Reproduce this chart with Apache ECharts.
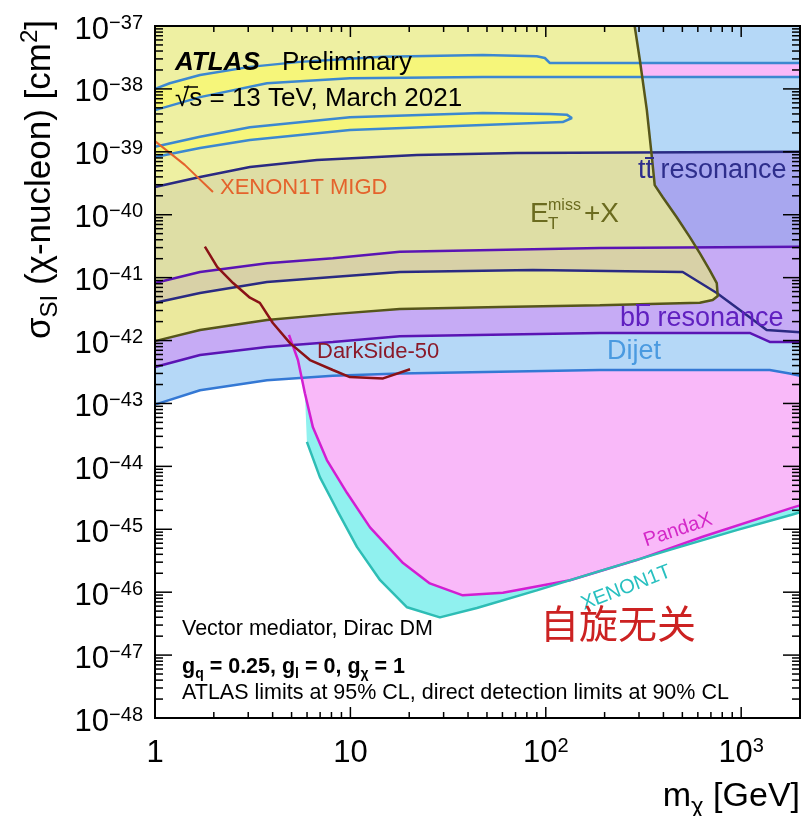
<!DOCTYPE html>
<html><head><meta charset="utf-8">
<script src="https://cdn.jsdelivr.net/npm/echarts@6/dist/echarts.min.js"></script>
<style>html,body{margin:0;padding:0;background:#fff}#c{width:802px;height:816px}</style>
</head><body><div id="c"></div>
<script>
// ---------------- data ----------------
const xMajorTicks = [1, 10, 100, 1000];
const yMajorExp = [-48, -47, -46, -45, -44, -43, -42, -41, -40, -39, -38, -37];
const minorMult = [2, 3, 4, 5, 6, 7, 8, 9];

const pandaxM = [4.85, 5.39, 5.85, 6.43, 7.58, 9.6, 12.6, 18.6, 25.5, 37.6, 60.3, 133, 292, 635, 1813, 2000];
const pandaxS = [1.23e-42, 4.9e-43, 1.45e-43, 4.17e-44, 1.26e-44, 3.8e-45, 1.07e-45, 2.9e-46, 1.38e-46, 8.9e-47, 9.8e-47, 1.55e-46, 3.24e-46, 7.6e-46, 2.19e-45, 2.4e-45];

const xenonM = [5.99, 6.98, 8.53, 10.8, 14.2, 19.5, 28.7, 44.4, 89.9, 196, 431, 948, 1813, 2000];
const xenonS = [2.45e-44, 6.76e-45, 2.04e-45, 5.25e-46, 1.55e-46, 5.75e-47, 3.98e-47, 5.6e-47, 1.07e-46, 2.24e-46, 4.7e-46, 9.7e-46, 1.7e-45, 1.86e-45];

const dijetLowM = [1, 1.7, 3.74, 8.13, 17.9, 189, 1400, 1770, 2000];
const dijetLowS = [9.6e-44, 1.62e-43, 2.34e-43, 2.75e-43, 3.0e-43, 3.4e-43, 3.4e-43, 3.0e-43, 2.75e-43];

const bbLowM = [1, 1.7, 3.74, 8.13, 17.9, 189, 1105, 1400, 2000];
const bbLowS = [3.8e-43, 5.9e-43, 7.9e-43, 9.5e-43, 1.17e-42, 1.32e-42, 1.32e-42, 9.5e-43, 9.5e-43];

const bbUpM = [1, 1.7, 3.74, 8.13, 17.9, 85.8, 502, 750, 1105, 1350, 2000];
const bbUpS = [3.98e-42, 5.7e-42, 8.5e-42, 1.02e-41, 1.23e-41, 1.32e-41, 1.23e-41, 5.7e-42, 2.35e-42, 1.47e-42, 1.36e-42];

const ttLowM = [1, 1.7, 3.74, 8.13, 17.9, 189, 2000];
const ttLowS = [8.2e-42, 1.23e-41, 1.7e-41, 2.04e-41, 2.57e-41, 2.95e-41, 3.09e-41];

const ttUpM = [1, 1.7, 3.06, 6.74, 21.9, 71.1, 2000];
const ttUpS = [2.75e-40, 3.98e-40, 5.75e-40, 7.4e-40, 8.9e-40, 9.55e-40, 1.0e-39];

const etM = [285, 303, 329, 349, 361, 397, 468, 545, 614, 690, 750, 759, 715, 614, 189, 58.2, 17.9, 8.13, 3.74, 1.7, 1];
const etS = [1e-37, 2.88e-38, 4.6e-39, 8.3e-40, 2.95e-40, 1.9e-40, 9.1e-41, 4.45e-41, 2.45e-41, 1.32e-41, 8.2e-42, 5.1e-42, 4.4e-42, 3.98e-42, 3.65e-42, 3.4e-42, 3.16e-42, 2.63e-42, 2.12e-42, 1.47e-42, 9.8e-43];

const dijetHiTopM = [1, 1.19, 1.7, 3.06, 5.52, 14.7, 47.6, 89.9, 98.9, 105, 2000];
const dijetHiTopS = [1.0e-38, 1.23e-38, 1.66e-38, 2.24e-38, 2.69e-38, 3.24e-38, 3.46e-38, 3.3e-38, 3.1e-38, 2.57e-38, 2.57e-38];
const dijetHiBotM = [1, 1.7, 3.74, 9.94, 47.6, 2000];
const dijetHiBotS = [4.6e-39, 7.4e-39, 1.23e-38, 1.48e-38, 1.55e-38, 1.55e-38];

const dijetLoopM = [1, 1.7, 3.06, 9.94, 47.6, 105, 128, 136, 122, 47.6, 9.94, 3.06, 1.7, 1];
const dijetLoopS = [1.2e-39, 1.74e-39, 2.45e-39, 3.55e-39, 4.15e-39, 4.0e-39, 3.9e-39, 3.45e-39, 2.97e-39, 2.66e-39, 2.23e-39, 1.54e-39, 1.15e-39, 8.3e-40];

const migdM = [1, 1.42, 1.98];
const migdS = [1.48e-39, 6.2e-40, 2.29e-40];

const ds50M = [1.80, 2.08, 2.51, 3.06, 3.44, 4.01, 4.91, 6.21, 8.13, 9.94, 14.7, 20.2];
const ds50S = [3.1e-41, 1.48e-41, 8.2e-42, 4.8e-42, 3.98e-42, 1.9e-42, 9.1e-43, 4.9e-43, 3.4e-43, 2.63e-43, 2.5e-43, 3.5e-43];

// ---------------- chart ----------------
// The y axis is plotted in units of 1e-48 cm^2 (ECharts rounds tiny numbers to 20 decimals).
const yUnitExp = -48;
const yUnit = 1e-48;
const ys = s => s / yUnit;
const xMin = 1, xMax = 2000, yMin = ys(1e-48), yMax = ys(1e-37);
const F = "'Liberation Sans', Arial, Helvetica, sans-serif";
const C = {pink:'#f9b9f9', cyan:'#90f1ef', lblue:'#b5d8f7', lav:'#c6abf5', tt:'#a8a7ef',
  ety:'#eef0a2', ebright:'#f6f67a', eolive:'#dedea5', etan:'#d8d1a7', eyel:'#ebe99d'};

function P(api, ms, ss) { return ms.map((m, i) => api.coord([m, ys(ss[i])])); }
function rev(a) { return a.slice().reverse(); }
function poly(points, fill) { return {type: 'polygon', shape: {points}, style: {fill, stroke: null}}; }

function regionSeries(z, build) {
  return {type: 'custom', coordinateSystem: 'cartesian2d', z, silent: true, clip: true,
    data: [[10, 1e5]], renderItem: (params, api) => build(api)};
}
function lineSeries(ms, ss, color, width, z) {
  return {type: 'line', data: ms.map((m, i) => [m, ys(ss[i])]), showSymbol: false, symbol: 'none',
    lineStyle: {color, width}, z, silent: true, clip: true, smooth: false};
}

const series = [
  regionSeries(1, api => ({type: 'group', children: [
    poly(P(api, pandaxM, pandaxS).concat([api.coord([xMax, yMax]), api.coord([pandaxM[0], yMax])]), C.pink),
    poly(P(api, xenonM, xenonS).concat(rev(P(api, pandaxM.filter(m => m > 5.8), pandaxS.filter((s, i) => pandaxM[i] > 5.8)))), C.cyan)
  ]})),
  regionSeries(2, api => poly(P(api, dijetLowM, dijetLowS).concat([api.coord([xMax, yMax]), api.coord([xMin, yMax])]), C.lblue)),
  regionSeries(3, api => ({type: 'group', children: [
    poly(P(api, dijetHiTopM, dijetHiTopS).concat(rev(P(api, dijetHiBotM, dijetHiBotS))), C.pink),
    poly(P(api, dijetLoopM, dijetLoopS), C.pink)
  ]})),
  regionSeries(4, api => poly(P(api, bbLowM, bbLowS).concat(rev(P(api, ttLowM, ttLowS))), C.lav)),
  regionSeries(5, api => poly(P(api, ttUpM, ttUpS).concat(rev(P(api, ttLowM, ttLowS))), C.tt)),
  regionSeries(6, api => {
    const etPoly = P(api, etM, etS).concat([api.coord([xMin, yMax])]);
    return {type: 'group', clipPath: {type: 'polygon', shape: {points: etPoly}}, children: [
      poly(etPoly, C.ety),
      poly(P(api, dijetHiTopM, dijetHiTopS).concat(rev(P(api, dijetHiBotM, dijetHiBotS))), C.ebright),
      poly(P(api, dijetLoopM, dijetLoopS), C.ebright),
      poly(P(api, ttUpM, ttUpS).concat(rev(P(api, ttLowM, ttLowS))), C.eolive),
      poly(P(api, ttLowM, ttLowS).concat(rev(P(api, bbUpM, bbUpS))), C.etan),
      poly(P(api, bbUpM, bbUpS).concat(rev(P(api, bbLowM, bbLowS))), C.eyel)
    ]};
  }),
  lineSeries(dijetLowM, dijetLowS, '#3478d4', 2.5, 8),
  lineSeries(bbLowM, bbLowS, '#5a14b4', 2.5, 8),
  lineSeries(bbUpM, bbUpS, '#2a2a82', 2.5, 8),
  lineSeries(ttLowM, ttLowS, '#5a14b4', 2.5, 8),
  lineSeries(ttUpM, ttUpS, '#2a2a82', 2.5, 8),
  lineSeries(dijetHiTopM, dijetHiTopS, '#3c88d0', 2.5, 8),
  lineSeries(dijetHiBotM, dijetHiBotS, '#3c88d0', 2.5, 8),
  lineSeries(dijetLoopM, dijetLoopS, '#3c88d0', 2.5, 8),
  lineSeries(etM, etS, '#56561a', 2.5, 9),
  lineSeries(pandaxM, pandaxS, '#d21ed2', 2.5, 9),
  lineSeries(xenonM, xenonS, '#2ebdb5', 2.5, 9),
  lineSeries(migdM, migdS, '#e4632c', 2, 9),
  lineSeries(ds50M, ds50S, '#8a1216', 2.5, 9)
];

// ticks and frame
const xTickData = [];
xMajorTicks.forEach(d => { xTickData.push([d, yMin, 1]); minorMult.forEach(k => { if (d * k <= xMax) xTickData.push([d * k, yMin, 0]); }); });
const yTickData = [];
yMajorExp.forEach(e => { const d = Math.pow(10, e - yUnitExp); yTickData.push([xMin, d, 1]); if (e < -37) minorMult.forEach(k => yTickData.push([xMin, d * k, 0])); });

series.push({type: 'custom', coordinateSystem: 'cartesian2d', z: 20, silent: true, clip: false, data: xTickData,
  renderItem: (params, api) => {
    const cs = params.coordSys, p = api.coord([api.value(0), yMin]), L = api.value(2) ? 11 : 6;
    const b = cs.y + cs.height, t = cs.y;
    return {type: 'group', children: [
      {type: 'line', shape: {x1: p[0], y1: b, x2: p[0], y2: b - L}, style: {stroke: '#000', lineWidth: 1.5}},
      {type: 'line', shape: {x1: p[0], y1: t, x2: p[0], y2: t + L}, style: {stroke: '#000', lineWidth: 1.5}}
    ]};
  }});
series.push({type: 'custom', coordinateSystem: 'cartesian2d', z: 20, silent: true, clip: false, data: yTickData,
  renderItem: (params, api) => {
    const cs = params.coordSys, p = api.coord([xMin, api.value(1)]), L = api.value(2) ? 17 : 8;
    const l = cs.x, r = cs.x + cs.width;
    return {type: 'group', children: [
      {type: 'line', shape: {x1: l, y1: p[1], x2: l + L, y2: p[1]}, style: {stroke: '#000', lineWidth: 1.5}},
      {type: 'line', shape: {x1: r, y1: p[1], x2: r - L, y2: p[1]}, style: {stroke: '#000', lineWidth: 1.5}}
    ]};
  }});
series.push({type: 'custom', coordinateSystem: 'cartesian2d', z: 21, silent: true, clip: false, data: [[xMin, yMin]],
  renderItem: (params) => {
    const cs = params.coordSys;
    return {type: 'rect', shape: {x: cs.x, y: cs.y, width: cs.width, height: cs.height}, style: {fill: null, stroke: '#000', lineWidth: 2}};
  }});

function expText(e) {
  if (e === 0) return '{a|1}';
  if (e === 1) return '{a|10}';
  return '{a|10}{b|' + (e < 0 ? '\u2212' : '') + Math.abs(e) + '}';
}
const richLab = {
  a: {fontSize: 31, fontFamily: F, color: '#000', lineHeight: 34},
  b: {fontSize: 20, fontFamily: F, color: '#000', lineHeight: 20, verticalAlign: 'top'}
};

const txt = (x, y, text, size, color, extra) => Object.assign({type: 'text', x, y, z: 30, silent: true,
  style: Object.assign({text, fontSize: size, fontFamily: F, fill: color, align: 'left', verticalAlign: 'middle'}, extra || {})});

const option = {
  animation: false,
  backgroundColor: '#fff',
  grid: {left: 155, top: 26, right: 2, bottom: 98, show: false},
  xAxis: {type: 'log', logBase: 10, min: xMin, max: xMax, interval: 1,
    axisLine: {show: false}, axisTick: {show: false}, splitLine: {show: false}, minorTick: {show: false},
    axisLabel: {formatter: v => expText(Math.round(Math.log10(v))), rich: richLab, margin: 18, showMaxLabel: false, showMinLabel: true}},
  yAxis: {type: 'log', logBase: 10, min: yMin, max: yMax, interval: 1,
    axisLine: {show: false}, axisTick: {show: false}, splitLine: {show: false}, minorTick: {show: false},
    axisLabel: {formatter: v => expText(Math.round(Math.log10(v)) + yUnitExp), rich: richLab, margin: 12, padding: [8, 0, 0, 0], hideOverlap: false}},
  series,
  graphic: [
    txt(175, 63, 'ATLAS', 26, '#000', {fontWeight: 'bold', fontStyle: 'italic'}),
    txt(282, 63, 'Preliminary', 26, '#000'),
    txt(175, 99, '\u221As = 13 TeV, March 2021', 26, '#000'),
    {type: 'line', z: 30, silent: true, shape: {x1: 184, y1: 87, x2: 198, y2: 87}, style: {stroke: '#000', lineWidth: 1.5}},
    txt(220, 188, 'XENON1T MIGD', 22, '#e4632c'),
    txt(530, 214, 'E', 28, '#6b6b1f'),
    txt(548, 206, 'miss', 16, '#6b6b1f'),
    txt(548, 224, 'T', 17, '#6b6b1f'),
    txt(584, 214, '+X', 28, '#6b6b1f'),
    txt(638, 171, 'tt resonance', 27, '#2e2e8c'),
    {type: 'line', z: 30, silent: true, shape: {x1: 645, y1: 158, x2: 654, y2: 158}, style: {stroke: '#2e2e8c', lineWidth: 2}},
    txt(620, 319, 'bb resonance', 27, '#6020c0'),
    {type: 'line', z: 30, silent: true, shape: {x1: 636, y1: 305, x2: 650, y2: 305}, style: {stroke: '#6020c0', lineWidth: 2}},
    txt(607, 352, 'Dijet', 27, '#4a9ae0'),
    txt(317, 352, 'DarkSide-50', 22, '#8b1a2a'),
    Object.assign(txt(678, 530, 'PandaX', 20, '#d428c8', {align: 'center'}), {rotation: 18.4 * Math.PI / 180}),
    Object.assign(txt(626, 588, 'XENON1T', 20, '#28c0c0', {align: 'center'}), {rotation: 21 * Math.PI / 180}),
    txt(618, 623, '自旋无关', 39, '#cc2222', {align: 'center', fontFamily: "'Noto Sans CJK SC', sans-serif"}),
    txt(182, 629, 'Vector mediator, Dirac DM', 21.5, '#000'),
    {type: 'text', x: 182, y: 667, z: 30, silent: true, style: {
      text: '{b|g}{s|q}{b| = 0.25, g}{s|l}{b| = 0, g}{s|\u03C7}{b| = 1}', align: 'left', verticalAlign: 'middle',
      rich: {b: {fontSize: 21.5, fontFamily: F, fontWeight: 'bold', color: '#000', lineHeight: 28},
             s: {fontSize: 14, fontFamily: F, fontWeight: 'bold', color: '#000', lineHeight: 14, verticalAlign: 'bottom'}}}},
    txt(182, 693, 'ATLAS limits at 95% CL, direct detection limits at 90% CL', 21.5, '#000'),
    {type: 'text', x: 800, y: 797, z: 30, silent: true, style: {
      text: '{n|m}{s|\u03C7}{n| [GeV]}', align: 'right', verticalAlign: 'middle',
      rich: {n: {fontSize: 34, fontFamily: F, color: '#000', lineHeight: 44},
             s: {fontSize: 24, fontFamily: F, color: '#000', lineHeight: 20, verticalAlign: 'bottom'}}}},
    {type: 'text', x: 40, y: 20, z: 30, silent: true, rotation: Math.PI / 2, style: {
      text: '{n|\u03C3}{s|SI}{n| (\u03C7-nucleon) [cm}{p|2}{n|]}', align: 'right', verticalAlign: 'middle',
      rich: {n: {fontSize: 35, fontFamily: F, color: '#000', lineHeight: 44},
             s: {fontSize: 24, fontFamily: F, color: '#000', lineHeight: 22, verticalAlign: 'bottom'},
             p: {fontSize: 24, fontFamily: F, color: '#000', lineHeight: 22, verticalAlign: 'top'}}}}
  ]
};
const chart = echarts.init(document.getElementById('c'), null, {renderer: 'canvas'});
chart.setOption(option);
</script></body></html>
